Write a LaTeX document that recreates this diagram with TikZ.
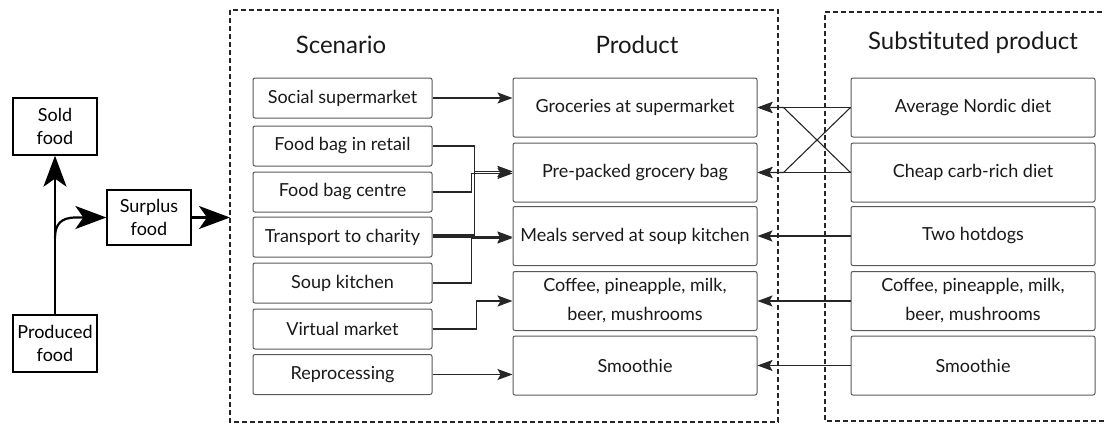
\documentclass[tikz,border=0pt]{standalone}
\usepackage{fontspec}
\setmainfont{Lato}
\usetikzlibrary{arrows.meta}
\tikzset{
  box/.style={draw=black!65, rounded corners=2pt, line width=1pt, minimum width=179pt,
    minimum height=40pt, inner sep=0pt, align=center, text=black!90,
    font=\fontsize{18}{21}\selectfont},
  prod/.style={box, minimum width=244pt, minimum height=59pt,
    font=\fontsize{18}{29}\selectfont},
  flow/.style={draw, line width=1.3pt, minimum width=84pt, minimum height=57pt,
    inner sep=0pt, align=center, font=\fontsize{18}{23}\selectfont},
  head/.style={font=\fontsize{24}{28}\selectfont, text=black!90},
  frame/.style={dash pattern=on 5pt off 3pt, line width=1.3pt, black!85},
  arr/.style={-{Stealth[length=15pt,width=11pt,inset=3pt]}, line width=1.1pt, black!85},
  bigarr/.style={-{Stealth[length=31pt,width=23pt,inset=8pt]}, line width=2.2pt}
}
\begin{document}
\begin{tikzpicture}[x=1pt,y=-1pt]
  \useasboundingbox (0,0) rectangle (1104,424);
  % dashed frames
  \draw[frame] (230,10) rectangle (778,422);
  \draw[frame] (1110,12) -- (825,12) -- (825,421) -- (1110,421);
  % headings
  \node[head] (hscen) at (341,45) {Scenario};
  \node[head] (hprod) at (637,45) {Product};
  \node[head] (hsubs) at (973,43) {Substituted product};
  % food flow
  \node[flow] (sold) at (55,126.5) {Sold\\food};
  \node[flow] (produced) at (55,343.5) {Produced\\food};
  \node[flow, minimum height=55pt] (surplus) at (149,217.5) {Surplus\\food};
  \coordinate (split) at (55,238);
  \coordinate (framein) at (230,217.5);
  % scenarios
  \node[box] (social) at (342.5,98) {Social supermarket};
  \node[box] (retail) at (342.5,146) {Food bag in retail};
  \node[box] (centre) at (342.5,192) {Food bag centre};
  \node[box] (transport) at (342.5,237) {Transport to charity};
  \node[box] (soup) at (342.5,283) {Soup kitchen};
  \node[box] (virtual) at (342.5,329) {Virtual market};
  \node[box] (reproc) at (342.5,374.5) {Reprocessing};
  % products
  \node[prod] (groc) at (635,107.5) {Groceries at supermarket};
  \node[prod] (bag) at (635,172.5) {Pre-packed grocery bag};
  \node[prod] (meals) at (635,236) {Meals served at soup kitchen};
  \node[prod] (coffee) at (635,301) {Coffee, pineapple, milk,\\beer, mushrooms};
  \node[prod] (smooth) at (635,365.5) {Smoothie};
  % substituted products
  \node[prod] (nordic) at (973,107.5) {Average Nordic diet};
  \node[prod] (carb) at (973,172.5) {Cheap carb-rich diet};
  \node[prod] (hotdog) at (973,236) {Two hotdogs};
  \node[prod] (coffeesub) at (973,301) {Coffee, pineapple, milk,\\beer, mushrooms};
  \node[prod] (smoothsub) at (973,365.5) {Smoothie};
  \coordinate (xgroc) at ([xshift=26pt]groc.east);
  \coordinate (xbag) at ([xshift=26pt]bag.east);
  % left arrows
  \draw[bigarr] (produced) -- (sold);
  \draw[bigarr] (split) .. controls (55,224) and (61,217.5) .. (76,217.5) -- (surplus.west);
  \draw[bigarr] (surplus.east) -- (framein);
  % scenario to product
  \draw[arr] (social.east) -- (social.east -| groc.west);
  \draw[arr] (retail.east) -| ([xshift=-38pt,yshift=1pt]bag.west) -- ([yshift=1pt]bag.west);
  \draw[arr] (centre.east) -| ([xshift=-41pt,yshift=-1pt]bag.west) -- ([yshift=-1pt]bag.west);
  \draw[arr] ([yshift=2pt]transport.east) -| ([xshift=-38pt,yshift=1pt]bag.west) -- ([yshift=1pt]bag.west);
  \draw[arr] (transport.east) -- (transport.east -| meals.west);
  \draw[arr] (soup.east) -| ([xshift=-41pt,yshift=-2pt]meals.west) -- ([yshift=-2pt]meals.west);
  \draw[arr] (virtual.east) -| ([xshift=-36pt]coffee.west) -- (coffee.west);
  \draw[arr] (reproc.east) -- (reproc.east -| smooth.west);
  % substituted to product
  \draw[arr] (nordic.west) -- (xgroc) -- (groc.east);
  \draw[arr] (nordic.west) -- (xbag) -- (bag.east);
  \draw[arr] (carb.west) -- (xgroc) -- (groc.east);
  \draw[arr] (carb.west) -- (xbag) -- (bag.east);
  \draw[arr] (hotdog.west) -- (meals.east);
  \draw[arr] (coffeesub.west) -- (coffee.east);
  \draw[arr] (smoothsub.west) -- (smooth.east);
\end{tikzpicture}
\end{document}
